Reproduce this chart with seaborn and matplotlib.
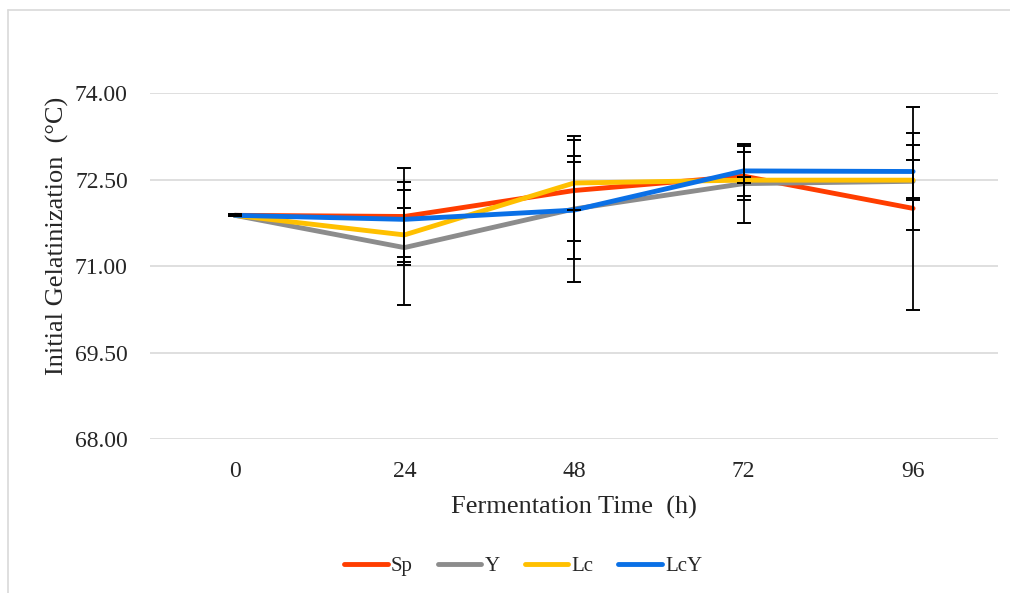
import pandas as pd
import matplotlib.pyplot as plt
import seaborn as sns
from matplotlib.lines import Line2D

sns.set_style("white")
plt.rcParams["font.family"] = ["Liberation Serif", "DejaVu Serif"]

times = ["0", "24", "48", "72", "96"]
series = ["Sp", "Y", "Lc", "LcY"]
colors = ["#FF3D00", "#8C8C8C", "#FFC000", "#0A70E6"]

sp = [71.88, 71.86, 72.31, 72.56, 72.00]
y = [71.88, 71.32, 71.99, 72.43, 72.47]
lc = [71.88, 71.54, 72.44, 72.49, 72.49]
lcy = [71.88, 71.81, 71.97, 72.65, 72.64]

sp_err = [0.02, 0.84, 0.88, 0.42, 1.76]
y_err = [0.02, 1.00, 1.26, 0.68, 0.84]
lc_err = [0.02, 0.47, 0.47, 0.05, 0.35]
lcy_err = [0.02, 0.65, 0.84, 0.43, 0.46]

values = {"Sp": sp, "Y": y, "Lc": lc, "LcY": lcy}
errors = {"Sp": sp_err, "Y": y_err, "Lc": lc_err, "LcY": lcy_err}

df = pd.DataFrame([
    {"time": t, "series": s, "value": values[s][i], "err": errors[s][i]}
    for s in series for i, t in enumerate(times)
])

fig = plt.figure(figsize=(10.1, 5.93), dpi=100)
ax = fig.add_axes([0.1485, 0.2597, 0.8395, 0.5833])

for s, c in zip(series, colors):
    d = df[df["series"] == s]
    sns.lineplot(data=d, x="time", y="value", color=c, linewidth=3.5, sort=False,
                 ax=ax, legend=False, zorder=3)
    ax.errorbar(d["time"], d["value"], yerr=d["err"], fmt="none", ecolor="black",
                elinewidth=1.3, capsize=5, capthick=1.4, zorder=4)

ax.set_xlim(-0.5, 4.5)
ax.set_ylim(68, 74)
ax.set_yticks([68, 69.5, 71, 72.5, 74])
ax.set_yticklabels(["68.00", "69.50", "71.00", "72.50", "74.00"])
ax.yaxis.grid(True, color="#d9d9d9", linewidth=1.2)
ax.xaxis.grid(False)
ax.set_axisbelow(True)
for sp_name in ax.spines:
    ax.spines[sp_name].set_visible(False)
ax.tick_params(axis="both", length=0, labelsize=17, colors="#262626")
ax.tick_params(axis="y", pad=16)
ax.tick_params(axis="x", pad=16)
ax.set_xlabel("Fermentation Time  (h)", fontsize=19, color="#262626", labelpad=10)
ax.set_ylabel("Initial Gelatinization  (°C)", fontsize=19, color="#262626", labelpad=4)
ax.yaxis.label.set_y(0.587)

handles = [Line2D([], [], color=c, linewidth=3.5, solid_capstyle="round") for c in colors]
fig.legend(handles, series, loc="center", bbox_to_anchor=(0.518, 0.045), ncol=4,
           frameon=False, fontsize=15, handlelength=2.1, handletextpad=0.15,
           columnspacing=1.2)

fig.add_artist(Line2D([8 / 1010, 8 / 1010], [0, 1 - 10 / 593], color="#d9d9d9",
                      linewidth=1.2, transform=fig.transFigure))
fig.add_artist(Line2D([8 / 1010, 1], [1 - 10 / 593, 1 - 10 / 593], color="#d9d9d9",
                      linewidth=1.2, transform=fig.transFigure))

fig.savefig("out.png", dpi=100)
